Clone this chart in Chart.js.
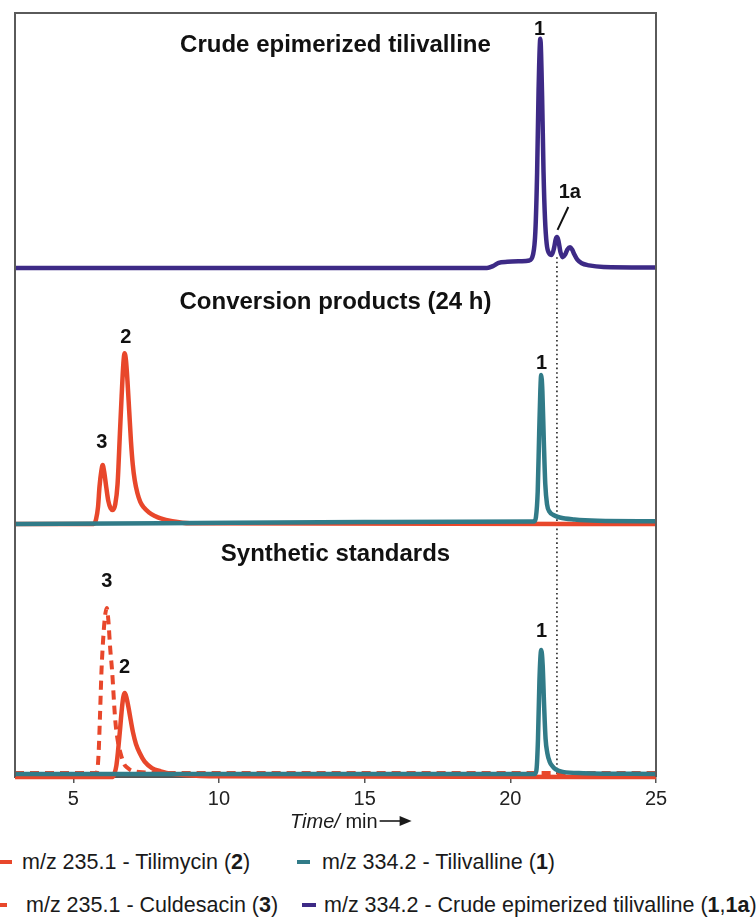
<!DOCTYPE html>
<html>
<head>
<meta charset="utf-8">
<script src="https://cdn.jsdelivr.net/npm/chart.js@4/dist/chart.umd.min.js"></script>
<style>
  body { margin: 0; background: #fff; }
  #wrap { position: relative; width: 756px; height: 922px; overflow: hidden; font-family: Arial, "Liberation Sans", sans-serif; color: #1a1a1a; }
  #chart { position: absolute; left: 0; top: 0; }
  .lg { position: absolute; font-size: 21.5px; line-height: 26px; white-space: nowrap; }
  .mk { position: absolute; height: 4px; }
</style>
</head>
<body>
<div id="wrap">
  <canvas id="chart" width="756" height="845"></canvas>
  <span class="mk" style="left:0;top:860px;width:12px;background:#e8472b"></span>
  <span class="lg" style="left:22px;top:849px">m/z 235.1 - Tilimycin (<b>2</b>)</span>
  <span class="mk" style="left:297px;top:860px;width:13px;background:#317b88"></span>
  <span class="lg" style="left:322px;top:849px">m/z 334.2 - Tilivalline (<b>1</b>)</span>
  <span class="mk" style="left:0;top:903px;width:7px;background:#e8472b"></span>
  <span class="lg" style="left:26px;top:892px">m/z 235.1 - Culdesacin (<b>3</b>)</span>
  <span class="mk" style="left:302px;top:903px;width:14px;background:#3d2a86"></span>
  <span class="lg" style="left:324px;top:892px">m/z 334.2 - Crude epimerized tilivalline (<b>1</b>,<b>1a</b>)</span>
</div>
<script>
// x axis
const xTicks = [5, 10, 15, 20, 25];
const markerTime = 21.6;
const panelTitles = ['Crude epimerized tilivalline', 'Conversion products (24 h)', 'Synthetic standards'];

// top panel: crude epimerized tilivalline, m/z 334.2
const crudeTime   = [3, 19.2, 19.4, 19.6, 19.9, 20.4, 20.65, 20.78, 20.86, 20.92, 20.97, 21.03, 21.09, 21.14, 21.19, 21.25, 21.33, 21.42, 21.5, 21.56, 21.6, 21.65, 21.72, 21.8, 21.88, 21.96, 22.05, 22.12, 22.2, 22.3, 22.45, 22.7, 23.2, 25];
const crudeSignal = [0.8, 0.8, 1.5, 2.8, 3.2, 3.4, 3.7, 6, 15, 38, 70, 90, 68, 38, 20, 10, 6.5, 5.8, 8.5, 12, 12.8, 11.5, 7, 5, 6, 8, 8.9, 8, 6, 4, 2.6, 1.8, 1.2, 1.0];

// middle panel: conversion products (24 h)
const convTilimycinTime   = [3, 5.7, 5.78, 5.85, 5.9, 5.96, 6.01, 6.06, 6.13, 6.2, 6.28, 6.36, 6.44, 6.52, 6.6, 6.66, 6.72, 6.76, 6.81, 6.86, 6.92, 6.98, 7.04, 7.11, 7.2, 7.3, 7.42, 7.6, 7.8, 8.0, 8.4, 9, 25];
const convTilimycinSignal = [-0.8, -0.8, 1, 6, 14, 20, 22.6, 20, 14, 8.5, 5.5, 4.8, 7, 15, 35, 50, 63, 67, 64, 56, 44, 32, 23, 16.5, 11.5, 8, 5.8, 3.8, 2.4, 1.4, 0.3, -0.5, -0.8];
const convTilivallineTime   = [3, 8, 15, 20.82, 20.88, 20.94, 20.99, 21.03, 21.06, 21.1, 21.15, 21.2, 21.26, 21.35, 21.48, 21.7, 22.2, 23, 25];
const convTilivallineSignal = [-0.8, -0.5, 0, 0.2, 2, 12, 35, 52, 58.3, 52, 32, 15, 7, 4, 2.8, 1.8, 1, 0.5, 0.3];

// bottom panel: synthetic standards
const stdTilimycinTime   = [3, 6.36, 6.42, 6.48, 6.53, 6.6, 6.67, 6.72, 6.77, 6.83, 6.9, 6.97, 7.05, 7.15, 7.28, 7.45, 7.7, 8.0, 8.2, 8.8, 10, 25];
const stdTilimycinSignal = [0, 0, 1.5, 4.5, 9.4, 18, 27, 31.5, 32.9, 31, 27, 22.4, 17.5, 13, 9.4, 6, 3.5, 2.2, 1.6, 0.8, 0.3, 0];
const stdCuldesacinTime   = [3, 5.8, 5.83, 5.87, 5.92, 5.97, 6.05, 6.1, 6.15, 6.2, 6.27, 6.33, 6.44, 6.53, 6.62, 6.75, 6.87, 7.0, 7.5, 8, 25];
const stdCuldesacinSignal = [1.6, 1.6, 3, 9.4, 25, 42, 58, 64, 66.3, 62, 50, 42, 22.4, 14, 9.4, 5, 3.5, 2.5, 1.8, 1.6, 1.6];
const stdTilivallineTime   = [3, 20.85, 20.9, 20.95, 21.0, 21.06, 21.11, 21.16, 21.21, 21.27, 21.35, 21.45, 21.56, 21.8, 22.5, 25];
const stdTilivallineSignal = [1.2, 1.2, 3, 15, 38, 49.8, 44, 28, 15, 9.4, 6, 4.2, 3, 2, 1.5, 1.2];

// peak labels
const peakLabelText  = ['1', '1a', '3', '2', '1', '3', '2', '1'];
const peakLabelPanel = ['yTop', 'yTop', 'yMid', 'yMid', 'yMid', 'yBot', 'yBot', 'yBot'];
const peakLabelTime  = [21.0, 22.04, 5.98, 6.8, 21.07, 6.15, 6.76, 21.07];
const peakLabelLevel = [93.4, 30, 31.7, 73.4, 63.1, 76.5, 43.1, 56.9];
const leaderTime  = [21.99, 21.62];
const leaderLevel = [24.5, 15.6];

const RED = '#e8472b', TEAL = '#317b88', PURPLE = '#3d2a86';
const FONT = 'Arial, "Liberation Sans", sans-serif';

const pts = (t, v) => t.map((x, i) => ({ x, y: v[i] }));
const line = (t, v, color, axis, extra) => Object.assign({
  data: pts(t, v), borderColor: color, borderWidth: 4.5, pointRadius: 0,
  cubicInterpolationMode: 'monotone', yAxisID: axis, clip: false
}, extra || {});

const overlay = {
  id: 'overlay',
  beforeDatasetsDraw(chart) {
    const { ctx, scales } = chart;
    const px = scales.x.getPixelForValue(markerTime);
    ctx.save();
    ctx.strokeStyle = '#222';
    ctx.lineWidth = 1.6;
    ctx.setLineDash([1.6, 3]);
    ctx.beginPath();
    ctx.moveTo(px, scales.yTop.getPixelForValue(5));
    ctx.lineTo(px, scales.yBot.getPixelForValue(1));
    ctx.stroke();
    ctx.restore();
  },
  afterDatasetsDraw(chart) {
    const { ctx, chartArea: a, scales } = chart;
    ctx.save();
    ctx.strokeStyle = '#5a5a5a';
    ctx.lineWidth = 2;
    ctx.beginPath();
    ctx.moveTo(a.left, a.bottom); ctx.lineTo(a.left, a.top);
    ctx.lineTo(a.right, a.top); ctx.lineTo(a.right, a.bottom);
    ctx.stroke();

    ctx.fillStyle = '#111';
    ctx.textAlign = 'center';
    ctx.textBaseline = 'middle';
    ctx.font = 'bold 24px ' + FONT;
    ['yTop', 'yMid', 'yBot'].forEach((id, i) => {
      ctx.fillText(panelTitles[i], (a.left + a.right) / 2, scales[id].top + 32.5);
    });

    ctx.font = 'bold 20px ' + FONT;
    peakLabelText.forEach((txt, i) => {
      ctx.fillText(txt, scales.x.getPixelForValue(peakLabelTime[i]), scales[peakLabelPanel[i]].getPixelForValue(peakLabelLevel[i]));
    });
    ctx.strokeStyle = '#111';
    ctx.lineWidth = 2;
    ctx.beginPath();
    ctx.moveTo(scales.x.getPixelForValue(leaderTime[0]), scales.yTop.getPixelForValue(leaderLevel[0]));
    ctx.lineTo(scales.x.getPixelForValue(leaderTime[1]), scales.yTop.getPixelForValue(leaderLevel[1]));
    ctx.stroke();

    // axis title: Time/ min ->
    const y0 = a.bottom + 51;
    let x0 = 290;
    ctx.textAlign = 'left';
    ctx.textBaseline = 'alphabetic';
    ctx.fillStyle = '#1a1a1a';
    ctx.font = 'italic 20px ' + FONT;
    ctx.fillText('Time/', x0, y0);
    x0 += ctx.measureText('Time/').width;
    ctx.font = '20px ' + FONT;
    ctx.fillText(' min', x0, y0);
    x0 += ctx.measureText(' min').width + 2;
    const ay = y0 - 7;
    ctx.strokeStyle = '#1a1a1a';
    ctx.lineWidth = 1.6;
    ctx.beginPath(); ctx.moveTo(x0, ay); ctx.lineTo(x0 + 22, ay); ctx.stroke();
    ctx.beginPath(); ctx.moveTo(x0 + 32, ay); ctx.lineTo(x0 + 20, ay - 5); ctx.lineTo(x0 + 20, ay + 5); ctx.closePath(); ctx.fill();
    ctx.restore();
  }
};

new Chart(document.getElementById('chart'), {
  type: 'line',
  data: {
    datasets: [
      line(crudeTime, crudeSignal, PURPLE, 'yTop'),
      line(convTilivallineTime, convTilivallineSignal, TEAL, 'yMid'),
      line(convTilimycinTime, convTilimycinSignal, RED, 'yMid'),
      line(stdTilivallineTime, stdTilivallineSignal, TEAL, 'yBot'),
      line(stdTilimycinTime, stdTilimycinSignal, RED, 'yBot'),
      line(stdCuldesacinTime, stdCuldesacinSignal, RED, 'yBot', { borderDash: [9, 6], borderWidth: 4 })
    ]
  },
  options: {
    responsive: false,
    animation: false,
    layout: { padding: { left: 15, top: 13, right: 100, bottom: 28 } },
    plugins: { legend: { display: false }, tooltip: { enabled: false } },
    scales: {
      x: {
        type: 'linear', min: 3, max: 25,
        afterBuildTicks: s => { s.ticks = xTicks.map(v => ({ value: v })); },
        afterFit: s => { s.height = 40; },
        ticks: { font: { family: FONT, size: 20 }, color: '#222', padding: 4 },
        grid: { display: true, drawOnChartArea: false, tickLength: 6, color: '#555', lineWidth: 1.5 },
        border: { display: true, color: '#555', width: 2 }
      },
      yBot: { type: 'linear', min: 0, max: 100, display: false, position: 'left', stack: 'panels', stackWeight: 255 },
      yMid: { type: 'linear', min: 0, max: 100, display: false, position: 'left', stack: 'panels', stackWeight: 252 },
      yTop: { type: 'linear', min: 0, max: 100, display: false, position: 'left', stack: 'panels', stackWeight: 257 }
    }
  },
  plugins: [overlay]
});
</script>
</body>
</html>
